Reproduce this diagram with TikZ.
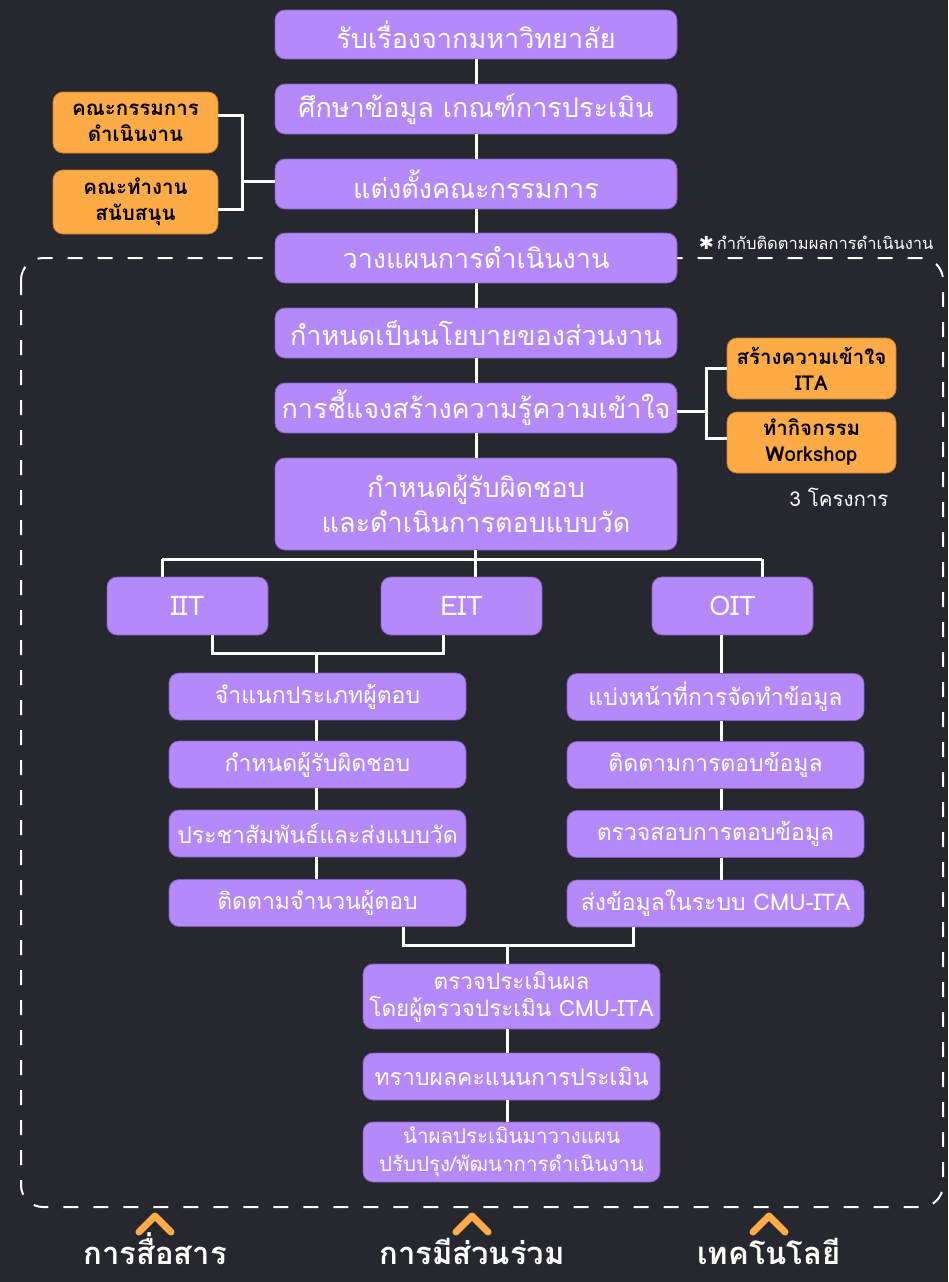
\documentclass[tikz,border=0pt]{standalone}
\usepackage{fontspec}
\setmainfont[Script=Thai]{Loma}
\newfontfamily\symfont{DejaVu Sans}
\usetikzlibrary{calc}
\definecolor{bgc}{RGB}{38,39,47}
\definecolor{pur}{RGB}{181,137,250}
\definecolor{purd}{RGB}{125,95,185}
\definecolor{org}{RGB}{255,171,72}
\definecolor{orgd}{RGB}{200,125,45}
\begin{document}
\begin{tikzpicture}[x=1pt,y=-1pt,
  pbox/.style={fill=pur, draw=purd, line width=0.8pt, rounded corners=10pt, text=white, align=center, inner sep=0pt, font=\fontsize{27}{35}\selectfont},
  sbox/.style={pbox, font=\fontsize{23}{27}\selectfont},
  obox/.style={fill=org, draw=orgd, line width=0.8pt, rounded corners=10pt, text=black, align=center, inner sep=0pt, font=\bfseries\fontsize{20.5}{26}\selectfont},
  wide/.style={minimum width=402pt, minimum height=50pt},
  col/.style={minimum width=297pt, minimum height=47pt},
  tri/.style={minimum width=161pt, minimum height=58pt},
  link/.style={draw=white, line width=3pt},
  frame/.style={draw=white, line width=2pt, dash pattern=on 15pt off 15pt, rounded corners=22pt},
  chev/.style={draw=org, line width=7pt, line cap=round, line join=round},
  lab/.style={text=white, anchor=base, inner sep=0pt, font=\bfseries\fontsize{31}{34}\selectfont}
]
\fill[bgc] (0,0) rectangle (948,1282);
\useasboundingbox (0,0) rectangle (948,1282);

% dashed frame
\draw[frame] (21,258) rectangle (943,1207);

% main column
\node[pbox, wide, minimum height=49pt] (b1) at (476,34.5) {รับเรื่องจากมหาวิทยาลัย};
\node[pbox, wide] (b2) at (476,109) {ศึกษาข้อมูล เกณฑ์การประเมิน};
\node[pbox, wide] (b3) at (476,184) {แต่งตั้งคณะกรรมการ};
\node[pbox, wide] (b4) at (476,258) {วางแผนการดำเนินงาน};
\node[pbox, wide] (b5) at (476,333) {กำหนดเป็นนโยบายของส่วนงาน};
\node[pbox, wide] (b6) at (476,408) {การชี้แจงสร้างความรู้ความเข้าใจ};
\node[pbox, wide, minimum height=92pt] (b7) at (476,504) {กำหนดผู้รับผิดชอบ\\และดำเนินการตอบแบบวัด};

% orange side boxes
\node[obox, minimum width=165pt, minimum height=61pt] (o1) at (135.5,122.5) {คณะกรรมการ\\ดำเนินงาน};
\node[obox, minimum width=165pt, minimum height=64pt] (o2) at (135.5,202) {คณะทำงาน\\สนับสนุน};
\node[obox, minimum width=169pt, minimum height=61pt] (o3) at (811.5,368.5) {สร้างความเข้าใจ\\ITA};
\node[obox, minimum width=169pt, minimum height=61pt] (o4) at (811.5,442.5) {ทำกิจกรรม\\Workshop};
\node[text=white, font=\fontsize{20.5}{24}\selectfont] (proj) at (839,497) {3 โครงการ};
\node[text=white, anchor=east, font=\fontsize{16.5}{19}\selectfont] (note) at (937,243) {{\symfont\fontsize{18}{19}\selectfont ✱}\,กำกับติดตามผลการดำเนินงาน};

% IIT EIT OIT
\node[pbox, tri] (iit) at (187.5,606) {IIT};
\node[pbox, tri] (eit) at (461.5,606) {EIT};
\node[pbox, tri] (oit) at (732.5,606) {OIT};

% left column
\node[sbox, col] (l1) at (317.5,696.5) {จำแนกประเภทผู้ตอบ};
\node[sbox, col] (l2) at (317.5,764.5) {กำหนดผู้รับผิดชอบ};
\node[sbox, col] (l3) at (317.5,833.5) {ประชาสัมพันธ์และส่งแบบวัด};
\node[sbox, col] (l4) at (317.5,903) {ติดตามจำนวนผู้ตอบ};
% right column
\node[sbox, col] (r1) at (715.5,697) {แบ่งหน้าที่การจัดทำข้อมูล};
\node[sbox, col] (r2) at (715.5,765) {ติดตามการตอบข้อมูล};
\node[sbox, col] (r3) at (715.5,834) {ตรวจสอบการตอบข้อมูล};
\node[sbox, col] (r4) at (715.5,903.5) {ส่งข้อมูลในระบบ CMU-ITA};
% end column
\node[sbox, col, minimum height=65pt, font=\fontsize{22.5}{27}\selectfont] (e1) at (511.5,996.5) {ตรวจประเมินผล\\โดยผู้ตรวจประเมิน CMU-ITA};
\node[sbox, col] (e2) at (511.5,1076.5) {ทราบผลคะแนนการประเมิน};
\node[sbox, col, minimum height=60pt, font=\fontsize{20.5}{28}\selectfont] (e3) at (511.5,1152) {นำผลประเมินมาวางแผน\\ปรับปรุง/พัฒนาการดำเนินงาน};

% connectors main column
\draw[link] (b1.south) -- (b2.north);
\draw[link] (b2.south) -- (b3.north);
\draw[link] (b3.south) -- (b4.north);
\draw[link] (b4.south) -- (b5.north);
\draw[link] (b5.south) -- (b6.north);
\draw[link] (b6.south) -- (b7.north);

% left bracket
\coordinate (jl) at (242,181);
\draw[link] ([yshift=7.5pt]o1.east) -| (jl) |- ([yshift=-7pt]o2.east);
\draw[link] (jl) -- (jl -| b3.west);
% right bracket
\coordinate (jr) at (706,411);
\draw[link] (o3.west) -| (jr) |- ([yshift=4.5pt]o4.west);
\draw[link] (jr) -- (jr -| b6.east);

% branch to IIT EIT OIT
\coordinate (br) at (475,559);
\draw[link] (b7.south -| br) -- (br);
\draw[link] (br) -- (br |- eit.north);
\draw[link] (162,559) -- (762,559);
\draw[link] (162,559) -- (162,559 |- iit.north);
\draw[link] (762,559) -- (762,559 |- oit.north);

% join IIT + EIT to left column
\coordinate (jie) at (316,653);
\draw[link] (iit.south -| 212,0) |- (jie) -| (eit.south -| 443,0);
\draw[link] (jie) -- (jie |- l1.north);
\draw[link] (l1.south -| jie) -- (l2.north -| jie);
\draw[link] (l2.south -| jie) -- (l3.north -| jie);
\draw[link] (l3.south -| jie) -- (l4.north -| jie);

% OIT to right column
\coordinate (jo) at (721,0);
\draw[link] (oit.south -| jo) -- (r1.north -| jo);
\draw[link] (r1.south -| jo) -- (r2.north -| jo);
\draw[link] (r2.south -| jo) -- (r3.north -| jo);
\draw[link] (r3.south -| jo) -- (r4.north -| jo);

% join columns to evaluation
\coordinate (je) at (507,945);
\draw[link] (l4.south -| 403,0) |- (je) -| (r4.south -| 633,0);
\draw[link] (je) -- (je |- e1.north);
\draw[link] (e1.south -| je) -- (e2.north -| je);
\draw[link] (e2.south -| je) -- (e3.north -| je);

% chevrons and labels
\foreach \cx in {155,472,769} {
  \draw[chev] (\cx-16,1232) -- (\cx,1216) -- (\cx+16,1232);
}
\node[lab] (c1) at (155,1264) {การสื่อสาร};
\node[lab] (c2) at (472,1264) {การมีส่วนร่วม};
\node[lab] (c3) at (769,1264) {เทคโนโลยี};
\end{tikzpicture}
\end{document}
